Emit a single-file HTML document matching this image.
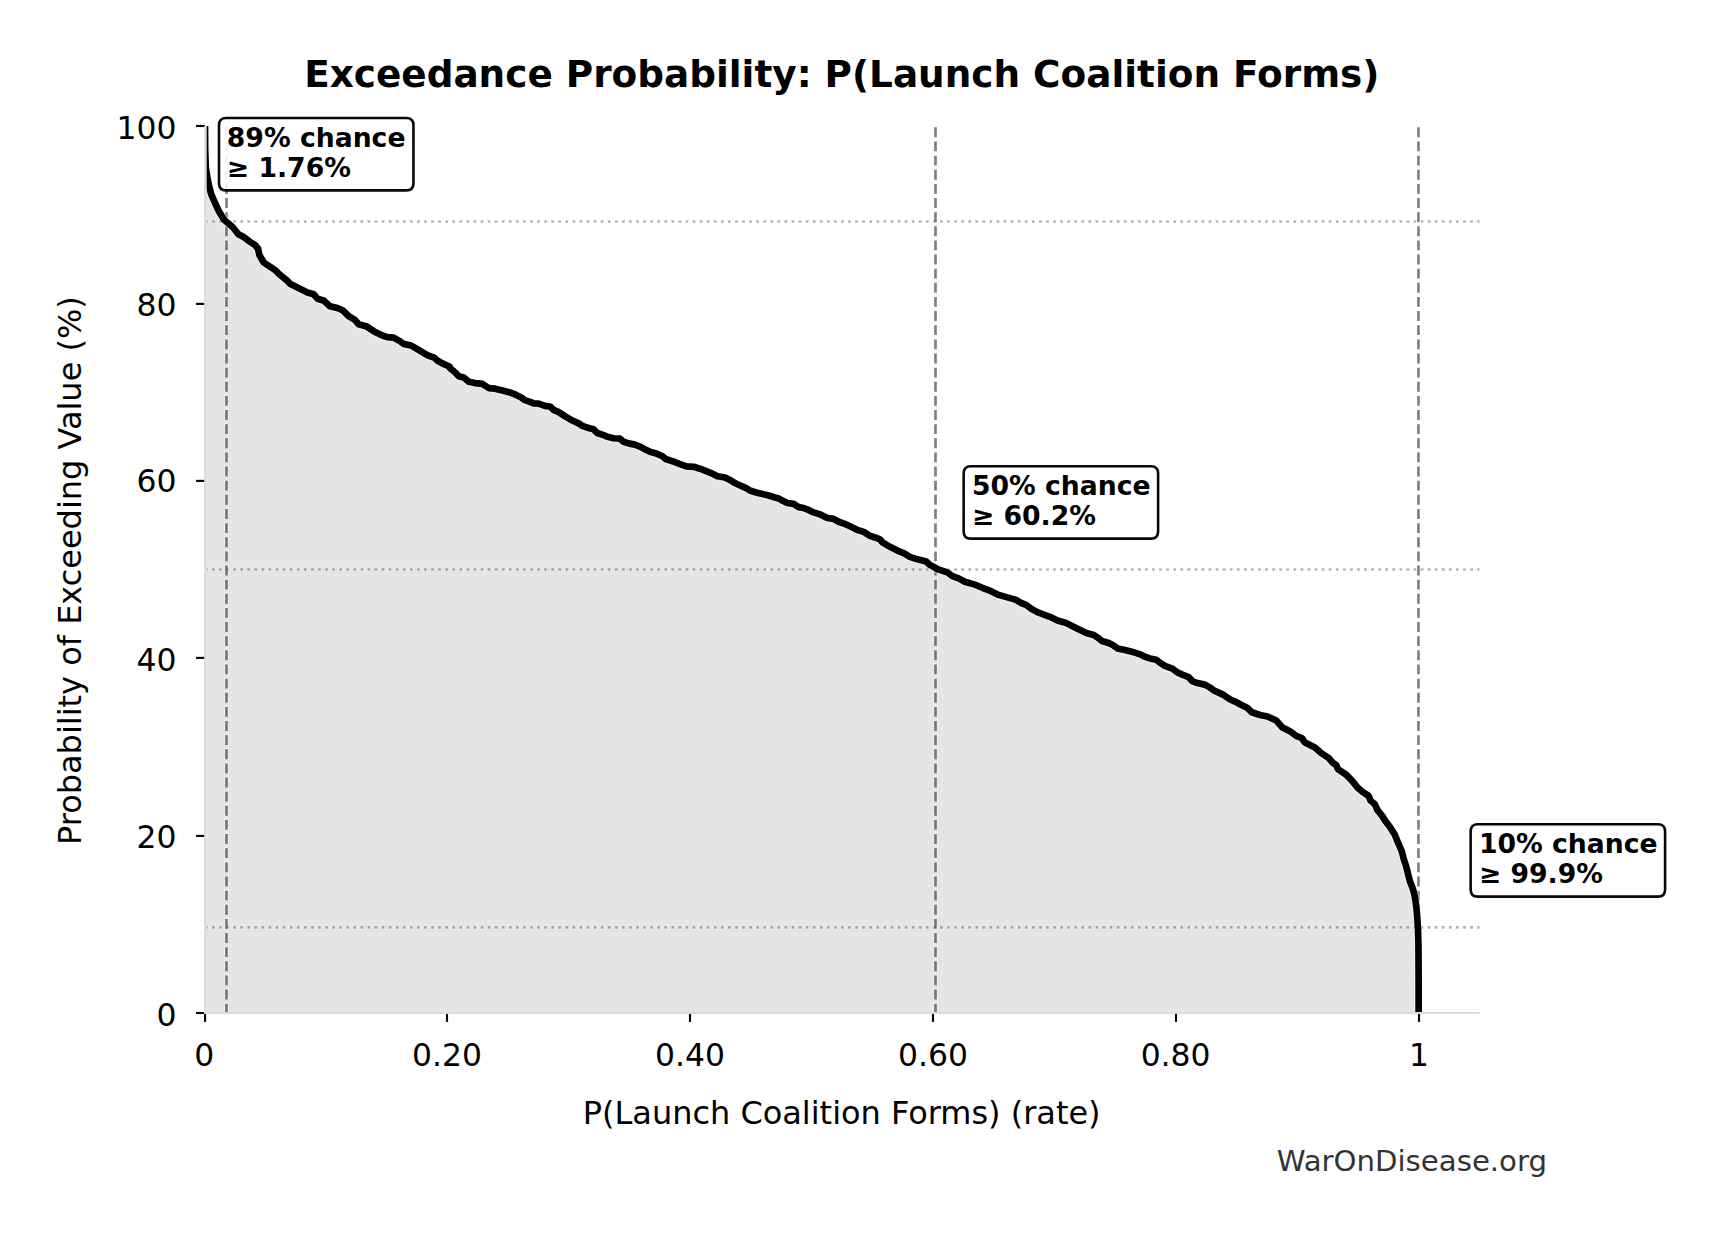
<!DOCTYPE html>
<html><head><meta charset="utf-8"><title>Exceedance Probability</title>
<style>
html,body{margin:0;padding:0;background:#fff;}
svg{display:block;}
text{font-family:"DejaVu Sans","Liberation Sans",sans-serif;fill:#000;}
.tk{font-size:31.4px;}
.an{font-size:26.67px;font-weight:bold;}
</style></head><body>
<svg width="1714" height="1234" viewBox="0 0 1714 1234">
<rect width="1714" height="1234" fill="#ffffff"/>
<defs><clipPath id="ax"><rect x="205.0" y="126.0" width="1274.7" height="887.0"/></clipPath></defs>
<g clip-path="url(#ax)">
<path d="M205.00,126.00 L205.20,150.00 L205.80,167.50 L207.10,176.30 L208.90,185.00 L211.05,193.80 L214.80,202.50 L218.90,211.30 L224.20,220.00 L228.50,223.50 L233.00,227.50 L236.20,231.50 L238.70,234.50 L244.20,237.30 L249.10,241.20 L255.00,245.00 L258.00,248.50 L259.36,254.97 L263.73,262.46 L274.97,269.96 L278.72,273.70 L286.21,279.94 L289.96,283.69 L299.94,288.68 L307.44,292.43 L313.68,294.30 L317.42,298.67 L323.67,300.55 L329.91,306.16 L337.40,308.04 L343.02,310.53 L348.64,316.15 L354.88,319.90 L358.63,324.27 L366.12,326.14 L373.61,331.14 L382.35,335.51 L387.35,337.13 L393.59,337.63 L399.83,341.12 L403.58,343.87 L411.07,345.50 L417.31,349.24 L424.80,353.61 L427.92,355.48 L434.17,357.61 L437.29,360.48 L442.28,363.35 L449.78,366.72 L450.00,368.09 L454.99,372.21 L458.74,376.21 L463.73,377.46 L468.73,381.83 L474.97,383.08 L482.46,383.95 L488.71,388.07 L494.95,388.70 L502.44,390.57 L509.93,392.44 L516.18,394.94 L521.17,397.44 L524.29,399.93 L529.91,401.81 L533.66,403.43 L538.65,403.68 L544.89,405.93 L550.51,406.80 L553.63,409.92 L558.63,412.17 L564.87,416.16 L572.36,420.53 L578.61,423.41 L582.35,425.90 L588.59,428.03 L593.59,429.27 L597.33,433.02 L603.58,435.14 L607.32,436.77 L613.57,438.26 L619.81,438.64 L623.55,441.76 L628.55,443.38 L634.79,444.63 L641.04,447.13 L644.78,449.25 L650.00,451.85 L656.24,453.47 L662.49,456.22 L665.61,458.97 L672.47,461.21 L678.72,463.71 L686.21,466.46 L693.70,466.83 L699.94,468.71 L706.19,471.20 L712.43,473.70 L717.42,476.20 L724.92,477.45 L729.91,479.94 L734.90,483.07 L741.15,485.94 L746.14,488.06 L749.89,490.56 L756.13,492.43 L762.37,493.93 L768.62,495.55 L774.86,497.42 L778.61,498.42 L782.35,500.55 L787.35,503.04 L793.59,503.92 L798.58,507.16 L803.58,508.04 L808.57,509.91 L813.57,512.41 L819.81,514.28 L824.80,516.78 L827.30,518.03 L833.54,518.90 L838.54,521.77 L844.78,523.89 L850.00,526.22 L857.49,529.97 L863.73,531.84 L869.35,535.58 L874.97,537.46 L879.97,539.33 L882.46,542.45 L889.96,546.82 L897.45,550.57 L903.69,553.07 L909.93,556.81 L917.42,559.31 L926.16,561.43 L929.91,564.93 L937.40,569.05 L947.39,572.42 L952.38,576.16 L958.63,578.41 L964.87,581.78 L974.86,584.65 L982.35,587.78 L991.09,591.15 L998.58,594.89 L1007.32,597.39 L1016.06,599.89 L1021.06,603.01 L1026.05,604.88 L1031.05,608.63 L1037.29,612.12 L1046.03,615.50 L1050.00,616.84 L1057.49,620.59 L1066.23,623.09 L1074.97,627.46 L1081.21,630.58 L1086.21,633.08 L1093.70,634.95 L1097.45,637.45 L1101.82,640.94 L1108.68,643.07 L1113.68,645.56 L1117.42,648.43 L1124.92,649.93 L1133.66,652.18 L1139.90,654.30 L1144.89,656.80 L1149.89,658.42 L1156.13,659.67 L1160.50,663.04 L1164.87,665.91 L1172.36,668.66 L1177.36,672.41 L1182.35,674.65 L1188.59,677.15 L1192.34,681.15 L1197.33,683.02 L1204.83,684.64 L1209.82,687.39 L1214.81,690.89 L1223.55,694.88 L1229.80,699.25 L1237.29,702.62 L1240.00,704.36 L1247.49,708.10 L1251.86,712.22 L1259.98,714.97 L1267.47,716.47 L1276.21,720.59 L1282.45,727.46 L1289.94,731.20 L1296.19,735.95 L1301.81,738.07 L1304.93,742.44 L1314.92,747.44 L1321.16,753.05 L1328.65,758.05 L1332.40,762.42 L1336.14,764.92 L1338.01,769.29 L1346.13,774.65 L1352.37,781.15 L1357.37,787.39 L1362.36,791.76 L1368.61,795.88 L1370.48,800.50 L1374.85,804.25 L1377.35,809.87 L1382.34,816.11 L1385.46,821.10 L1389.83,826.72 L1394.83,834.84 L1398.57,843.95 L1401.78,851.23 L1403.66,858.72 L1406.15,866.21 L1408.03,873.70 L1409.90,881.19 L1412.40,887.44 L1414.27,893.68 L1415.52,901.17 L1416.77,911.16 L1417.39,919.90 L1418.01,929.89 L1418.39,942.37 L1418.51,954.86 L1418.64,983.95 L1418.64,1013.00 L1418.6,1013.0 L205.0,1013.0 Z" fill="#e5e5e5"/>

<line x1="204.0" y1="221.5" x2="1479.7" y2="221.5" stroke="#fff" stroke-opacity="0.22" stroke-width="4.667" stroke-dasharray="4.667 2.401"/>
<line x1="205.0" y1="221.5" x2="1479.7" y2="221.5" stroke="#000" stroke-opacity="0.3" stroke-width="2.667" stroke-dasharray="2.667 4.401"/>
<line x1="204.0" y1="569.5" x2="1479.7" y2="569.5" stroke="#fff" stroke-opacity="0.22" stroke-width="4.667" stroke-dasharray="4.667 2.401"/>
<line x1="205.0" y1="569.5" x2="1479.7" y2="569.5" stroke="#000" stroke-opacity="0.3" stroke-width="2.667" stroke-dasharray="2.667 4.401"/>
<line x1="204.0" y1="927.3" x2="1479.7" y2="927.3" stroke="#fff" stroke-opacity="0.22" stroke-width="4.667" stroke-dasharray="4.667 2.401"/>
<line x1="205.0" y1="927.3" x2="1479.7" y2="927.3" stroke="#000" stroke-opacity="0.3" stroke-width="2.667" stroke-dasharray="2.667 4.401"/>
<line x1="226.5" y1="1014.0" x2="226.5" y2="126.0" stroke="#fff" stroke-opacity="0.35" stroke-width="4.667" stroke-dasharray="11.868 2.267"/>
<line x1="226.5" y1="1013.0" x2="226.5" y2="126.0" stroke="#000" stroke-opacity="0.5" stroke-width="2.667" stroke-dasharray="9.868 4.267" stroke-dashoffset="0.6"/>
<line x1="935.5" y1="1014.0" x2="935.5" y2="126.0" stroke="#fff" stroke-opacity="0.35" stroke-width="4.667" stroke-dasharray="11.868 2.267"/>
<line x1="935.5" y1="1013.0" x2="935.5" y2="126.0" stroke="#000" stroke-opacity="0.5" stroke-width="2.667" stroke-dasharray="9.868 4.267" stroke-dashoffset="0.6"/>
<line x1="1418.45" y1="1014.0" x2="1418.45" y2="126.0" stroke="#fff" stroke-opacity="0.35" stroke-width="4.667" stroke-dasharray="11.868 2.267"/>
<line x1="1418.45" y1="1013.0" x2="1418.45" y2="126.0" stroke="#000" stroke-opacity="0.5" stroke-width="2.667" stroke-dasharray="9.868 4.267" stroke-dashoffset="0.6"/>
<path d="M205.00,126.00 L205.20,150.00 L205.80,167.50 L207.10,176.30 L208.90,185.00 L211.05,193.80 L214.80,202.50 L218.90,211.30 L224.20,220.00 L228.50,223.50 L233.00,227.50 L236.20,231.50 L238.70,234.50 L244.20,237.30 L249.10,241.20 L255.00,245.00 L258.00,248.50 L259.36,254.97 L263.73,262.46 L274.97,269.96 L278.72,273.70 L286.21,279.94 L289.96,283.69 L299.94,288.68 L307.44,292.43 L313.68,294.30 L317.42,298.67 L323.67,300.55 L329.91,306.16 L337.40,308.04 L343.02,310.53 L348.64,316.15 L354.88,319.90 L358.63,324.27 L366.12,326.14 L373.61,331.14 L382.35,335.51 L387.35,337.13 L393.59,337.63 L399.83,341.12 L403.58,343.87 L411.07,345.50 L417.31,349.24 L424.80,353.61 L427.92,355.48 L434.17,357.61 L437.29,360.48 L442.28,363.35 L449.78,366.72 L450.00,368.09 L454.99,372.21 L458.74,376.21 L463.73,377.46 L468.73,381.83 L474.97,383.08 L482.46,383.95 L488.71,388.07 L494.95,388.70 L502.44,390.57 L509.93,392.44 L516.18,394.94 L521.17,397.44 L524.29,399.93 L529.91,401.81 L533.66,403.43 L538.65,403.68 L544.89,405.93 L550.51,406.80 L553.63,409.92 L558.63,412.17 L564.87,416.16 L572.36,420.53 L578.61,423.41 L582.35,425.90 L588.59,428.03 L593.59,429.27 L597.33,433.02 L603.58,435.14 L607.32,436.77 L613.57,438.26 L619.81,438.64 L623.55,441.76 L628.55,443.38 L634.79,444.63 L641.04,447.13 L644.78,449.25 L650.00,451.85 L656.24,453.47 L662.49,456.22 L665.61,458.97 L672.47,461.21 L678.72,463.71 L686.21,466.46 L693.70,466.83 L699.94,468.71 L706.19,471.20 L712.43,473.70 L717.42,476.20 L724.92,477.45 L729.91,479.94 L734.90,483.07 L741.15,485.94 L746.14,488.06 L749.89,490.56 L756.13,492.43 L762.37,493.93 L768.62,495.55 L774.86,497.42 L778.61,498.42 L782.35,500.55 L787.35,503.04 L793.59,503.92 L798.58,507.16 L803.58,508.04 L808.57,509.91 L813.57,512.41 L819.81,514.28 L824.80,516.78 L827.30,518.03 L833.54,518.90 L838.54,521.77 L844.78,523.89 L850.00,526.22 L857.49,529.97 L863.73,531.84 L869.35,535.58 L874.97,537.46 L879.97,539.33 L882.46,542.45 L889.96,546.82 L897.45,550.57 L903.69,553.07 L909.93,556.81 L917.42,559.31 L926.16,561.43 L929.91,564.93 L937.40,569.05 L947.39,572.42 L952.38,576.16 L958.63,578.41 L964.87,581.78 L974.86,584.65 L982.35,587.78 L991.09,591.15 L998.58,594.89 L1007.32,597.39 L1016.06,599.89 L1021.06,603.01 L1026.05,604.88 L1031.05,608.63 L1037.29,612.12 L1046.03,615.50 L1050.00,616.84 L1057.49,620.59 L1066.23,623.09 L1074.97,627.46 L1081.21,630.58 L1086.21,633.08 L1093.70,634.95 L1097.45,637.45 L1101.82,640.94 L1108.68,643.07 L1113.68,645.56 L1117.42,648.43 L1124.92,649.93 L1133.66,652.18 L1139.90,654.30 L1144.89,656.80 L1149.89,658.42 L1156.13,659.67 L1160.50,663.04 L1164.87,665.91 L1172.36,668.66 L1177.36,672.41 L1182.35,674.65 L1188.59,677.15 L1192.34,681.15 L1197.33,683.02 L1204.83,684.64 L1209.82,687.39 L1214.81,690.89 L1223.55,694.88 L1229.80,699.25 L1237.29,702.62 L1240.00,704.36 L1247.49,708.10 L1251.86,712.22 L1259.98,714.97 L1267.47,716.47 L1276.21,720.59 L1282.45,727.46 L1289.94,731.20 L1296.19,735.95 L1301.81,738.07 L1304.93,742.44 L1314.92,747.44 L1321.16,753.05 L1328.65,758.05 L1332.40,762.42 L1336.14,764.92 L1338.01,769.29 L1346.13,774.65 L1352.37,781.15 L1357.37,787.39 L1362.36,791.76 L1368.61,795.88 L1370.48,800.50 L1374.85,804.25 L1377.35,809.87 L1382.34,816.11 L1385.46,821.10 L1389.83,826.72 L1394.83,834.84 L1398.57,843.95 L1401.78,851.23 L1403.66,858.72 L1406.15,866.21 L1408.03,873.70 L1409.90,881.19 L1412.40,887.44 L1414.27,893.68 L1415.52,901.17 L1416.77,911.16 L1417.39,919.90 L1418.01,929.89 L1418.39,942.37 L1418.51,954.86 L1418.64,983.95 L1418.64,1013.00" fill="none" stroke="#fff" stroke-opacity="0.4" stroke-width="9.0" stroke-linejoin="round"/>
<path d="M205.00,126.00 L205.20,150.00 L205.80,167.50 L207.10,176.30 L208.90,185.00 L211.05,193.80 L214.80,202.50 L218.90,211.30 L224.20,220.00 L228.50,223.50 L233.00,227.50 L236.20,231.50 L238.70,234.50 L244.20,237.30 L249.10,241.20 L255.00,245.00 L258.00,248.50 L259.36,254.97 L263.73,262.46 L274.97,269.96 L278.72,273.70 L286.21,279.94 L289.96,283.69 L299.94,288.68 L307.44,292.43 L313.68,294.30 L317.42,298.67 L323.67,300.55 L329.91,306.16 L337.40,308.04 L343.02,310.53 L348.64,316.15 L354.88,319.90 L358.63,324.27 L366.12,326.14 L373.61,331.14 L382.35,335.51 L387.35,337.13 L393.59,337.63 L399.83,341.12 L403.58,343.87 L411.07,345.50 L417.31,349.24 L424.80,353.61 L427.92,355.48 L434.17,357.61 L437.29,360.48 L442.28,363.35 L449.78,366.72 L450.00,368.09 L454.99,372.21 L458.74,376.21 L463.73,377.46 L468.73,381.83 L474.97,383.08 L482.46,383.95 L488.71,388.07 L494.95,388.70 L502.44,390.57 L509.93,392.44 L516.18,394.94 L521.17,397.44 L524.29,399.93 L529.91,401.81 L533.66,403.43 L538.65,403.68 L544.89,405.93 L550.51,406.80 L553.63,409.92 L558.63,412.17 L564.87,416.16 L572.36,420.53 L578.61,423.41 L582.35,425.90 L588.59,428.03 L593.59,429.27 L597.33,433.02 L603.58,435.14 L607.32,436.77 L613.57,438.26 L619.81,438.64 L623.55,441.76 L628.55,443.38 L634.79,444.63 L641.04,447.13 L644.78,449.25 L650.00,451.85 L656.24,453.47 L662.49,456.22 L665.61,458.97 L672.47,461.21 L678.72,463.71 L686.21,466.46 L693.70,466.83 L699.94,468.71 L706.19,471.20 L712.43,473.70 L717.42,476.20 L724.92,477.45 L729.91,479.94 L734.90,483.07 L741.15,485.94 L746.14,488.06 L749.89,490.56 L756.13,492.43 L762.37,493.93 L768.62,495.55 L774.86,497.42 L778.61,498.42 L782.35,500.55 L787.35,503.04 L793.59,503.92 L798.58,507.16 L803.58,508.04 L808.57,509.91 L813.57,512.41 L819.81,514.28 L824.80,516.78 L827.30,518.03 L833.54,518.90 L838.54,521.77 L844.78,523.89 L850.00,526.22 L857.49,529.97 L863.73,531.84 L869.35,535.58 L874.97,537.46 L879.97,539.33 L882.46,542.45 L889.96,546.82 L897.45,550.57 L903.69,553.07 L909.93,556.81 L917.42,559.31 L926.16,561.43 L929.91,564.93 L937.40,569.05 L947.39,572.42 L952.38,576.16 L958.63,578.41 L964.87,581.78 L974.86,584.65 L982.35,587.78 L991.09,591.15 L998.58,594.89 L1007.32,597.39 L1016.06,599.89 L1021.06,603.01 L1026.05,604.88 L1031.05,608.63 L1037.29,612.12 L1046.03,615.50 L1050.00,616.84 L1057.49,620.59 L1066.23,623.09 L1074.97,627.46 L1081.21,630.58 L1086.21,633.08 L1093.70,634.95 L1097.45,637.45 L1101.82,640.94 L1108.68,643.07 L1113.68,645.56 L1117.42,648.43 L1124.92,649.93 L1133.66,652.18 L1139.90,654.30 L1144.89,656.80 L1149.89,658.42 L1156.13,659.67 L1160.50,663.04 L1164.87,665.91 L1172.36,668.66 L1177.36,672.41 L1182.35,674.65 L1188.59,677.15 L1192.34,681.15 L1197.33,683.02 L1204.83,684.64 L1209.82,687.39 L1214.81,690.89 L1223.55,694.88 L1229.80,699.25 L1237.29,702.62 L1240.00,704.36 L1247.49,708.10 L1251.86,712.22 L1259.98,714.97 L1267.47,716.47 L1276.21,720.59 L1282.45,727.46 L1289.94,731.20 L1296.19,735.95 L1301.81,738.07 L1304.93,742.44 L1314.92,747.44 L1321.16,753.05 L1328.65,758.05 L1332.40,762.42 L1336.14,764.92 L1338.01,769.29 L1346.13,774.65 L1352.37,781.15 L1357.37,787.39 L1362.36,791.76 L1368.61,795.88 L1370.48,800.50 L1374.85,804.25 L1377.35,809.87 L1382.34,816.11 L1385.46,821.10 L1389.83,826.72 L1394.83,834.84 L1398.57,843.95 L1401.78,851.23 L1403.66,858.72 L1406.15,866.21 L1408.03,873.70 L1409.90,881.19 L1412.40,887.44 L1414.27,893.68 L1415.52,901.17 L1416.77,911.16 L1417.39,919.90 L1418.01,929.89 L1418.39,942.37 L1418.51,954.86 L1418.64,983.95 L1418.64,1013.00" fill="none" stroke="#000" stroke-width="6.7" stroke-linejoin="round" stroke-linecap="butt"/>
</g>
<path d="M205.3,126.0 L205.3,1014.07" fill="none" stroke="#dddddd" stroke-width="2.3"/><path d="M204.15,1013.0 L1479.7,1013.0" fill="none" stroke="#dddddd" stroke-width="2.14"/>
<line x1="205.05" y1="1013.0" x2="205.05" y2="1021.9" stroke="#000" stroke-width="2.13"/>
<text class="tk" x="204.20" y="1065.6" text-anchor="middle">0</text>
<line x1="447.00" y1="1013.0" x2="447.00" y2="1021.9" stroke="#000" stroke-width="2.13"/>
<text class="tk" x="447.00" y="1065.6" text-anchor="middle">0.20</text>
<line x1="690.00" y1="1013.0" x2="690.00" y2="1021.9" stroke="#000" stroke-width="2.13"/>
<text class="tk" x="690.00" y="1065.6" text-anchor="middle">0.40</text>
<line x1="933.00" y1="1013.0" x2="933.00" y2="1021.9" stroke="#000" stroke-width="2.13"/>
<text class="tk" x="933.00" y="1065.6" text-anchor="middle">0.60</text>
<line x1="1176.00" y1="1013.0" x2="1176.00" y2="1021.9" stroke="#000" stroke-width="2.13"/>
<text class="tk" x="1175.60" y="1065.6" text-anchor="middle">0.80</text>
<line x1="1419.00" y1="1013.0" x2="1419.00" y2="1021.9" stroke="#000" stroke-width="2.13"/>
<text class="tk" x="1419.00" y="1065.6" text-anchor="middle">1</text>
<line x1="196.1" y1="1013.0" x2="205.0" y2="1013.0" stroke="#000" stroke-width="2.13"/>
<text class="tk" x="176.5" y="1025.55" text-anchor="end">0</text>
<line x1="196.1" y1="835.9" x2="205.0" y2="835.9" stroke="#000" stroke-width="2.13"/>
<text class="tk" x="176.5" y="847.60" text-anchor="end">20</text>
<line x1="196.1" y1="657.9" x2="205.0" y2="657.9" stroke="#000" stroke-width="2.13"/>
<text class="tk" x="176.5" y="670.60" text-anchor="end">40</text>
<line x1="196.1" y1="480.9" x2="205.0" y2="480.9" stroke="#000" stroke-width="2.13"/>
<text class="tk" x="176.5" y="492.40" text-anchor="end">60</text>
<line x1="196.1" y1="303.9" x2="205.0" y2="303.9" stroke="#000" stroke-width="2.13"/>
<text class="tk" x="176.5" y="315.50" text-anchor="end">80</text>
<line x1="196.1" y1="126.0" x2="205.0" y2="126.0" stroke="#000" stroke-width="2.13"/>
<text class="tk" x="176.5" y="138.65" text-anchor="end">100</text>
<path d="M205.3,126.0 L205.3,1014.07" fill="none" stroke="#dddddd" stroke-width="2.3"/><path d="M204.15,1013.0 L1479.7,1013.0" fill="none" stroke="#dddddd" stroke-width="2.14"/>
<path d="M226.20,118.00 L406.25,118.00 Q413.45,118.00 413.45,125.20 L413.45,183.20 Q413.45,190.40 406.25,190.40 L226.20,190.40 Q219.00,190.40 219.00,183.20 L219.00,125.20 Q219.00,118.00 226.20,118.00 Z" fill="#fff" fill-opacity="0.9" stroke="#000" stroke-opacity="0.97" stroke-width="2.6"/>
<text class="an" x="226.8" y="146.7">89% chance</text>
<text class="an" x="226.8" y="176.8">≥ 1.76%</text>
<path d="M970.85,466.20 L1150.90,466.20 Q1158.10,466.20 1158.10,473.40 L1158.10,531.40 Q1158.10,538.60 1150.90,538.60 L970.85,538.60 Q963.65,538.60 963.65,531.40 L963.65,473.40 Q963.65,466.20 970.85,466.20 Z" fill="#fff" fill-opacity="0.9" stroke="#000" stroke-opacity="0.97" stroke-width="2.6"/>
<text class="an" x="971.9" y="494.9">50% chance</text>
<text class="an" x="971.9" y="524.9">≥ 60.2%</text>
<path d="M1477.85,824.20 L1657.90,824.20 Q1665.10,824.20 1665.10,831.40 L1665.10,889.40 Q1665.10,896.60 1657.90,896.60 L1477.85,896.60 Q1470.65,896.60 1470.65,889.40 L1470.65,831.40 Q1470.65,824.20 1477.85,824.20 Z" fill="#fff" fill-opacity="0.9" stroke="#000" stroke-opacity="0.97" stroke-width="2.6"/>
<text class="an" x="1478.9" y="852.9">10% chance</text>
<text class="an" x="1478.9" y="882.9">≥ 99.9%</text>
<text x="841.8" y="87.0" text-anchor="middle" style="font-size:37.39px;font-weight:bold">Exceedance Probability: P(Launch Coalition Forms)</text>
<text x="841.7" y="1124.2" text-anchor="middle" style="font-size:31.96px">P(Launch Coalition Forms) (rate)</text>
<text transform="translate(80.8,570.6) rotate(-90)" text-anchor="middle" style="font-size:31.98px">Probability of Exceeding Value (%)</text>
<text x="1547.0" y="1171.0" text-anchor="end" style="font-size:29.2px;fill:#333333">WarOnDisease.org</text>
</svg></body></html>
